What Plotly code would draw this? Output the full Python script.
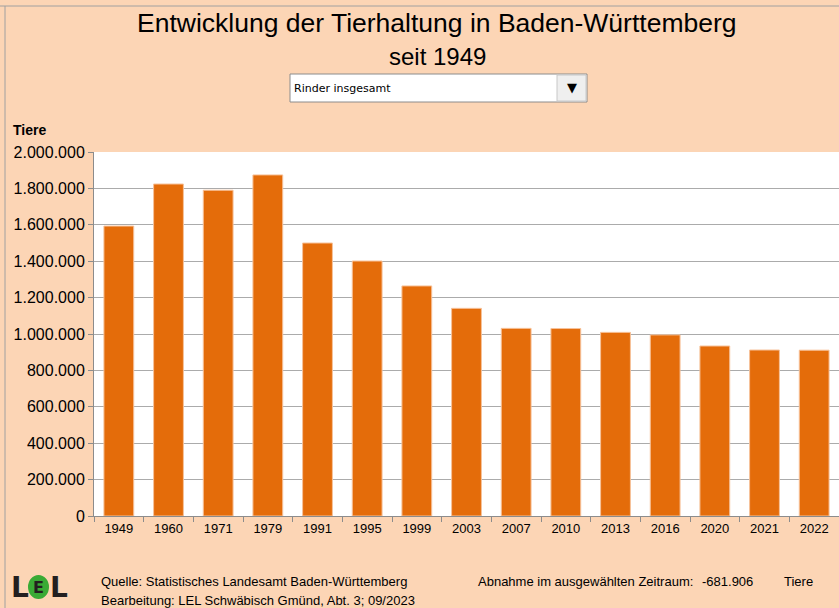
import plotly.graph_objects as go

years = ["1949", "1960", "1971", "1979", "1991", "1995", "1999", "2003",
         "2007", "2010", "2013", "2016", "2020", "2021", "2022"]
tiere = [1593000, 1824000, 1790000, 1874000, 1500000, 1401000, 1264000, 1141000,
         1031000, 1030000, 1009000, 995000, 934000, 912000, 911094]
y_ticks = [0, 200000, 400000, 600000, 800000, 1000000, 1200000, 1400000,
           1600000, 1800000, 2000000]
abnahme_text = "-681.906"

BG = "#FCD5B5"
BAR = "#E46C0A"
FONT = "Liberation Sans, Arial, sans-serif"
NARROW = "Liberation Sans Narrow, Arial Narrow, Liberation Sans, sans-serif"

fig = go.Figure()
fig.add_trace(go.Bar(
    x=years, y=tiere,
    marker=dict(color=BAR, line=dict(color="#F7C29A", width=1)),
    width=0.6,
    hoverinfo="x+y",
))

fig.update_layout(
    width=839, height=608,
    margin=dict(l=94, r=0, t=152, b=92),
    paper_bgcolor=BG, plot_bgcolor="white",
    separators=",.",
    showlegend=False,
    font=dict(family=FONT, color="#000000"),
    xaxis=dict(
        type="category",
        tickson="boundaries",
        ticks="outside", ticklen=5, tickcolor="#8C8C8C",
        showline=True, linecolor="#8C8C8C", linewidth=1,
        showgrid=False,
        tickfont=dict(size=13, family=FONT, color="#000"),
        range=[-0.5, 14.5],
    ),
    yaxis=dict(
        range=[0, 2000000],
        tickvals=y_ticks,
        tickformat=",d",
        ticks="outside", ticklen=5, tickcolor="#8C8C8C",
        showline=True, linecolor="#8C8C8C", linewidth=1,
        showgrid=True, gridcolor="#ABABAB", gridwidth=1,
        tickfont=dict(size=16, family=FONT, color="#000"),
        zeroline=False,
    ),
)

def px_x(x):
    return (x - 94) / 745
def px_y(y):
    return (516 - y) / 364

shapes = [
    dict(type="line", xref="paper", yref="paper", x0=px_x(0), x1=1, y0=px_y(6), y1=px_y(6),
         line=dict(color="#A0A0A0", width=1)),
    dict(type="line", xref="paper", yref="paper", x0=px_x(5), x1=px_x(5), y0=px_y(608), y1=px_y(6),
         line=dict(color="#A0A0A0", width=1)),
    dict(type="rect", xref="paper", yref="paper",
         x0=px_x(290), x1=px_x(587), y0=px_y(102), y1=px_y(74),
         fillcolor="white", line=dict(color="#8C8C8C", width=1)),
    dict(type="rect", xref="paper", yref="paper",
         x0=px_x(557), x1=px_x(586), y0=px_y(101), y1=px_y(75),
         fillcolor="#EFEFEF", line=dict(color="#C8C8C8", width=1)),
    dict(type="circle", xref="paper", yref="paper",
         x0=px_x(28), x1=px_x(49), y0=px_y(599), y1=px_y(575),
         fillcolor="#3AAA35", line=dict(width=0)),
]
fig.update_layout(shapes=shapes)

ann = []
def add_text(x, y, text, size, family=FONT, anchor="center", color="#000", bold=False):
    t = f"<b>{text}</b>" if bold else text
    ann.append(dict(xref="paper", yref="paper", x=px_x(x), y=px_y(y), text=t,
                    showarrow=False, xanchor=anchor, yanchor="middle",
                    font=dict(size=size, family=family, color=color)))

add_text(437, 23, "Entwicklung der Tierhaltung in Baden-Württemberg", 26.5)
add_text(437, 56, "seit 1949", 24)
add_text(292, 89, "Rinder insgesamt", 11, family="DejaVu Sans, sans-serif", anchor="left")
add_text(572, 88, "▼", 13, family="DejaVu Sans, sans-serif")
add_text(11, 130, "Tiere", 14, anchor="left", bold=True)
add_text(99, 581, "Quelle: Statistisches Landesamt Baden-Württemberg", 13, family=NARROW, anchor="left")
add_text(99, 600, "Bearbeitung: LEL Schwäbisch Gmünd, Abt. 3; 09/2023", 13, family=NARROW, anchor="left")
add_text(476, 581, "Abnahme im ausgewählten Zeitraum:", 13, family=NARROW, anchor="left")
add_text(755, 581, abnahme_text, 13, family=NARROW, anchor="right")
add_text(782, 581, "Tiere", 13, family=NARROW, anchor="left")
add_text(9, 587, "L", 28, family="DejaVu Sans, sans-serif", anchor="left", color="#231F20", bold=True)
add_text(38.5, 587, "E", 16, family="DejaVu Sans, sans-serif", color="#231F20", bold=True)
add_text(48, 587, "L", 28, family="DejaVu Sans, sans-serif", anchor="left", color="#231F20", bold=True)
fig.update_layout(annotations=ann)

fig.write_html("out.html",
               config={"displayModeBar": False},
               post_script="document.body.style.margin='0';document.body.style.padding='0';"
                           "document.documentElement.style.overflow='hidden';")
